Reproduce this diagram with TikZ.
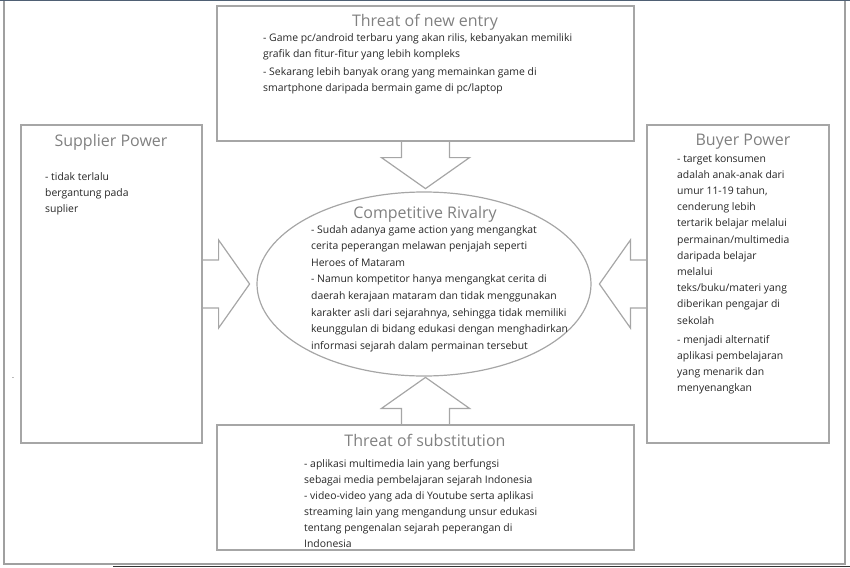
\documentclass[tikz,border=0pt]{standalone}
\usepackage{fontspec}
\setmainfont{Open Sans}
\usetikzlibrary{shapes.geometric}
\definecolor{boxgray}{HTML}{A6A6A6}
\definecolor{titlegray}{HTML}{808080}
\definecolor{bodytext}{HTML}{262626}
\definecolor{framegray}{HTML}{A0A0A0}
\definecolor{frametop}{HTML}{4F6074}
\tikzset{
  box/.style={draw=boxgray, line width=1.2pt, inner sep=0pt},
  title/.style={anchor=base, text=titlegray, font=\fontsize{16}{19}\selectfont},
  body/.style={anchor=north west, align=left, inner sep=0pt, text=bodytext, font=\fontsize{10.4}{16.2}\selectfont},
  blockarrow/.style={draw=boxgray, line width=1.2pt}
}
\begin{document}
\begin{tikzpicture}[x=1pt, y=-1pt]
\useasboundingbox (0,0) rectangle (850,567);
\draw[framegray, line width=2.5pt] (4,1) -- (4,564) -- (845,564) -- (845,1);
\draw[frametop, line width=1.5pt] (0,0.75) -- (850,0.75);
\draw[black!80, line width=1.5pt] (113,566.25) -- (850,566.25);
\node[box, minimum width=417, minimum height=135] (entry) at (425.5,73.5) {};
\node[box, minimum width=181, minimum height=318] (supplier) at (111.5,284) {};
\node[box, minimum width=182, minimum height=318] (buyer) at (738,284) {};
\node[box, minimum width=417, minimum height=125] (subst) at (425.5,487.5) {};
\node[box, ellipse, minimum width=334, minimum height=184] (rivalry) at (424,284) {};
\draw[blockarrow] (entry.south) ++(-24,0) -- ++(0,16) -- ++(-20,0) -- ++(44,31) -- ++(44,-31) -- ++(-20,0) -- ++(0,-16);
\draw[blockarrow] (subst.north) ++(-24,0) -- ++(0,-16) -- ++(-20,0) -- ++(44,-31) -- ++(44,31) -- ++(-20,0) -- ++(0,16);
\draw[blockarrow] (supplier.east) ++(0,-24) -- ++(16,0) -- ++(0,-20) -- ++(31,44) -- ++(-31,44) -- ++(0,-20) -- ++(-16,0);
\draw[blockarrow] (buyer.west) ++(0,-24) -- ++(-16,0) -- ++(0,-20) -- ++(-31,44) -- ++(31,44) -- ++(0,-20) -- ++(16,0);
\node[title] (entrytitle) at (425,27) {Threat of new entry};
\node[title] (suppliertitle) at (111,146) {Supplier Power};
\node[title] (buyertitle) at (743,145) {Buyer Power};
\node[title] (rivalrytitle) at (425,218) {Competitive Rivalry};
\node[title] (substtitle) at (425,446) {Threat of substitution};
\node[body] (entrytext) at (263,33) {- Game pc/android terbaru yang akan rilis, kebanyakan memiliki\\grafik dan fitur-fitur yang lebih kompleks\\[2pt]- Sekarang lebih banyak orang yang memainkan game di\\smartphone daripada bermain game di pc/laptop};
\node[body] (suppliertext) at (45,172) {- tidak terlalu\\bergantung pada\\suplier};
\node[body] (buyertext) at (677,154) {- target konsumen\\adalah anak-anak dari\\umur 11-19 tahun,\\cenderung lebih\\tertarik belajar melalui\\permainan/multimedia\\daripada belajar\\melalui\\teks/buku/materi yang\\diberikan pengajar di\\sekolah\\[3pt]- menjadi alternatif\\aplikasi pembelajaran\\yang menarik dan\\menyenangkan};
\node[body, font=\fontsize{10.4}{16.6}\selectfont] (rivalrytext) at (311,225) {- Sudah adanya game action yang mengangkat\\cerita peperangan melawan penjajah seperti\\Heroes of Mataram\\- Namun kompetitor hanya mengangkat cerita di\\daerah kerajaan mataram dan tidak menggunakan\\karakter asli dari sejarahnya, sehingga tidak memiliki\\keunggulan di bidang edukasi dengan menghadirkan\\informasi sejarah dalam permainan tersebut};
\node[body, font=\fontsize{10.4}{16}\selectfont] (substtext) at (304,459) {- aplikasi multimedia lain yang berfungsi\\sebagai media pembelajaran sejarah Indonesia\\- video-video yang ada di Youtube serta aplikasi\\streaming lain yang mengandung unsur edukasi\\tentang pengenalan sejarah peperangan di\\Indonesia};
\node[body, font=\fontsize{6}{7}\selectfont] (stray) at (12,377) {-};
\end{tikzpicture}
\end{document}
